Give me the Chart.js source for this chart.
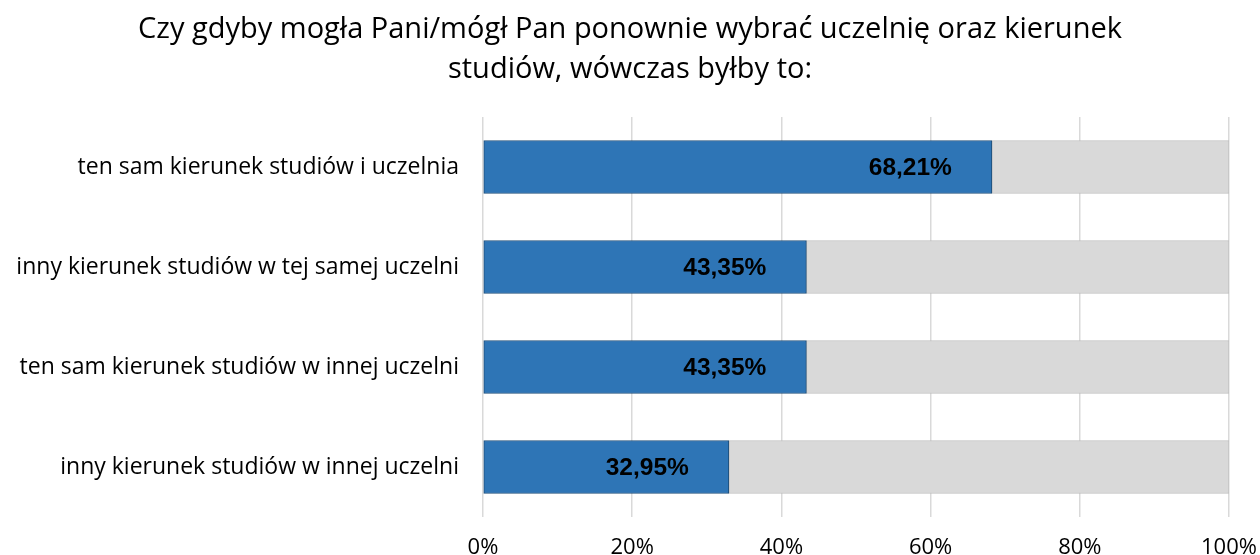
<!DOCTYPE html>
<html>
<head>
<meta charset="utf-8">
<script src="https://cdn.jsdelivr.net/npm/chart.js@4/dist/chart.umd.min.js"></script>
<style>
  html, body { margin: 0; padding: 0; background: #fff; }
  #wrap { width: 1260px; height: 555px; }
</style>
</head>
<body>
<div id="wrap"><canvas id="myChart" width="1260" height="555"></canvas></div>
<script>
var categories = [
  "ten sam kierunek studiów i uczelnia",
  "inny kierunek studiów w tej samej uczelni",
  "ten sam kierunek studiów w innej uczelni",
  "inny kierunek studiów w innej uczelni"
];
var values = [68.21, 43.35, 43.35, 32.95];
var rest = values.map(function(v) { return 100 - v; });
var tickLabels = ["0%", "20%", "40%", "60%", "80%", "100%"];

var labelPlugin = {
  id: "valueLabels",
  afterDatasetsDraw: function(chart) {
    var ctx = chart.ctx,
        meta = chart.getDatasetMeta(0);
    ctx.save();
    ctx.font = "bold 24.5px 'Liberation Sans', Arial, sans-serif";
    ctx.fillStyle = "#000";
    ctx.textAlign = "right";
    ctx.textBaseline = "middle";
    meta.data.forEach(function(bar, i) {
      var txt = values[i].toFixed(2).replace(".", ",") + "%";
      ctx.fillText(txt, bar.x - 40, bar.y + 1);
    });
    ctx.restore();
  }
};

var myChart = new Chart(document.getElementById("myChart"), {
  type: "bar",
  data: {
    labels: categories,
    datasets: [{
      data: values,
      backgroundColor: "#2e75b6",
      borderColor: "#1f4e79",
      borderWidth: 1,
      borderSkipped: false,
      barThickness: 53
    }, {
      data: rest,
      backgroundColor: "#d9d9d9",
      borderColor: "#bfbfbf",
      borderWidth: 1,
      borderSkipped: false,
      barThickness: 53
    }]
  },
  options: {
    indexAxis: "y",
    responsive: false,
    animation: false,
    layout: { padding: { left: 0, right: 0, top: 0, bottom: 0 } },
    plugins: {
      legend: { display: false },
      tooltip: { enabled: false },
      title: {
        display: true,
        text: ["Czy gdyby mogła Pani/mógł Pan ponownie wybrać uczelnię oraz kierunek", "studiów, wówczas byłby to:"],
        color: "#000",
        font: { family: "'Open Sans', sans-serif", size: 29, weight: "normal", lineHeight: 1.38 },
        padding: { top: 10, bottom: 27 }
      }
    },
    scales: {
      x: {
        stacked: true,
        min: 0,
        max: 100,
        ticks: {
          stepSize: 20,
          color: "#000",
          padding: 18,
          maxRotation: 0,
          font: { family: "'Open Sans', sans-serif", size: 22 },
          callback: function(v, i) { return tickLabels[i]; }
        },
        grid: { color: "#d9d9d9", lineWidth: 1.5, drawTicks: false },
        border: { display: false },
        afterFit: function(axis) {
          axis.height = 38;
          axis.paddingLeft = 0;
          axis.paddingRight = 31;
        }
      },
      y: {
        stacked: true,
        ticks: {
          color: "#000",
          padding: 24,
          font: { family: "'Open Sans', sans-serif", size: 23 }
        },
        grid: { display: false, drawTicks: false },
        border: { display: false },
        afterFit: function(axis) { axis.width = 483; }
      }
    }
  },
  plugins: [labelPlugin]
});
</script>
</body>
</html>
